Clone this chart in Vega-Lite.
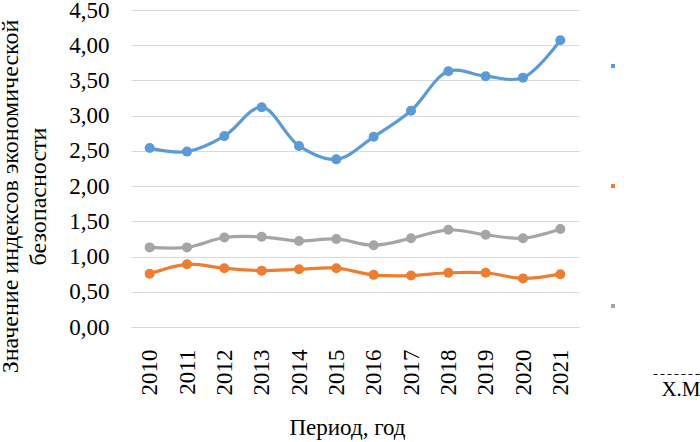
{
  "$schema": "https://vega.github.io/schema/vega-lite/v6.json",
  "width": 448,
  "height": 317,
  "autosize": "none",
  "padding": {"left": 131, "top": 10, "right": 121, "bottom": 115},
  "background": "white",
  "config": {
    "view": {"stroke": null},
    "font": "Liberation Serif",
    "axis": {"labelFont": "Liberation Serif", "titleFont": "Liberation Serif"},
    "axisY": {
      "tickCount": 9,
      "labelOverlap": false,
      "labelExpr": "replace(format(datum.value, '.2f'), '.', ',')",
      "labelFontSize": 23,
      "labelColor": "#000",
      "labelPadding": 22,
      "ticks": false,
      "domain": false,
      "grid": true,
      "gridColor": "#d9d9d9",
      "gridWidth": 1,
      "titleFontSize": 24,
      "titleFontWeight": "normal",
      "titleColor": "#000",
      "titleLineHeight": 28,
      "titleAngle": 270,
      "titleAlign": "center",
      "titleBaseline": "middle",
      "titleX": -121,
      "titleY": 186
    },
    "legend": {"labelFont": "Liberation Serif", "titleFont": "Liberation Serif"}
  },
  "data": {
    "values": [
      {"year": "2010", "series": "Ряд1", "value": 2.54},
      {"year": "2011", "series": "Ряд1", "value": 2.49},
      {"year": "2012", "series": "Ряд1", "value": 2.71},
      {"year": "2013", "series": "Ряд1", "value": 3.12},
      {"year": "2014", "series": "Ряд1", "value": 2.57},
      {"year": "2015", "series": "Ряд1", "value": 2.38},
      {"year": "2016", "series": "Ряд1", "value": 2.70},
      {"year": "2017", "series": "Ряд1", "value": 3.07},
      {"year": "2018", "series": "Ряд1", "value": 3.63},
      {"year": "2019", "series": "Ряд1", "value": 3.56},
      {"year": "2020", "series": "Ряд1", "value": 3.54},
      {"year": "2021", "series": "Ряд1", "value": 4.07},
      {"year": "2010", "series": "Ряд2", "value": 0.755},
      {"year": "2011", "series": "Ряд2", "value": 0.89},
      {"year": "2012", "series": "Ряд2", "value": 0.835},
      {"year": "2013", "series": "Ряд2", "value": 0.80},
      {"year": "2014", "series": "Ряд2", "value": 0.82},
      {"year": "2015", "series": "Ряд2", "value": 0.835},
      {"year": "2016", "series": "Ряд2", "value": 0.74},
      {"year": "2017", "series": "Ряд2", "value": 0.73},
      {"year": "2018", "series": "Ряд2", "value": 0.77},
      {"year": "2019", "series": "Ряд2", "value": 0.77},
      {"year": "2020", "series": "Ряд2", "value": 0.69},
      {"year": "2021", "series": "Ряд2", "value": 0.75},
      {"year": "2010", "series": "Ряд3", "value": 1.13},
      {"year": "2011", "series": "Ряд3", "value": 1.13},
      {"year": "2012", "series": "Ряд3", "value": 1.27},
      {"year": "2013", "series": "Ряд3", "value": 1.28},
      {"year": "2014", "series": "Ряд3", "value": 1.22},
      {"year": "2015", "series": "Ряд3", "value": 1.25},
      {"year": "2016", "series": "Ряд3", "value": 1.16},
      {"year": "2017", "series": "Ряд3", "value": 1.26},
      {"year": "2018", "series": "Ряд3", "value": 1.38},
      {"year": "2019", "series": "Ряд3", "value": 1.31},
      {"year": "2020", "series": "Ряд3", "value": 1.26},
      {"year": "2021", "series": "Ряд3", "value": 1.39}
    ]
  },
  "layer": [
    {
      "mark": {"type": "line", "strokeWidth": 3.2, "interpolate": "catmull-rom"},
      "encoding": {
        "x": {
          "field": "year",
          "type": "ordinal",
          "scale": {"type": "point", "padding": 0.5},
          "axis": {
            "title": "Период, год",
            "titleFontSize": 23,
            "titleFontWeight": "normal",
            "titleColor": "#000",
            "titleX": 216,
            "titleY": 100,
            "titleBaseline": "middle",
            "labelAngle": 270,
            "labelAlign": "right",
            "labelBaseline": "middle",
            "labelFontSize": 23,
            "labelColor": "#000",
            "labelPadding": 22,
            "ticks": false,
            "domain": true,
            "domainColor": "#d9d9d9",
            "grid": false
          }
        },
        "y": {
          "field": "value",
          "type": "quantitative",
          "scale": {"domain": [0, 4.5], "nice": false},
          "title": ["Значение индексов экономической", "безопасности"]
        },
        "color": {
          "field": "series",
          "type": "nominal",
          "scale": {"domain": ["Ряд1", "Ряд2", "Ряд3"], "range": ["#5B9BD5", "#ED7D31", "#A5A5A5"]},
          "legend": {
            "orient": "none",
            "legendX": 478,
            "legendY": 52,
            "title": null,
            "symbolType": "square",
            "symbolSize": 16,
            "symbolStrokeWidth": 0,
            "labelExpr": "''",
            "labelFontSize": 8,
            "rowPadding": 112
          }
        }
      }
    },
    {
      "mark": {"type": "point", "filled": true, "size": 100, "opacity": 1},
      "encoding": {
        "x": {"field": "year", "type": "ordinal"},
        "y": {"field": "value", "type": "quantitative"},
        "color": {"field": "series", "type": "nominal"}
      }
    },
    {
      "mark": {"type": "rule", "color": "#000", "strokeWidth": 1, "strokeOpacity": 0},
      "encoding": {
        "y": {"datum": 0, "type": "quantitative"},
        "strokeDash": {
          "datum": "X.M",
          "type": "nominal",
          "scale": {"range": [[4, 3]]},
          "legend": {
            "orient": "none",
            "legendX": 522,
            "legendY": 339,
            "symbolType": "stroke",
            "symbolStrokeColor": "#000",
            "symbolStrokeWidth": 1,
            "symbolSize": 2500,
            "symbolOpacity": 1,
            "labelExpr": "''",
            "labelFontSize": 4,
            "title": "X.M",
            "titleOrient": "bottom",
            "titleAnchor": "middle",
            "titlePadding": 2,
            "titleFontSize": 21,
            "titleFontWeight": "normal",
            "titleColor": "#000",
            "encode": {
              "symbols": {"update": {"strokeOpacity": {"value": 1}, "opacity": {"value": 1}}}
            }
          }
        }
      }
    }
  ]
}
